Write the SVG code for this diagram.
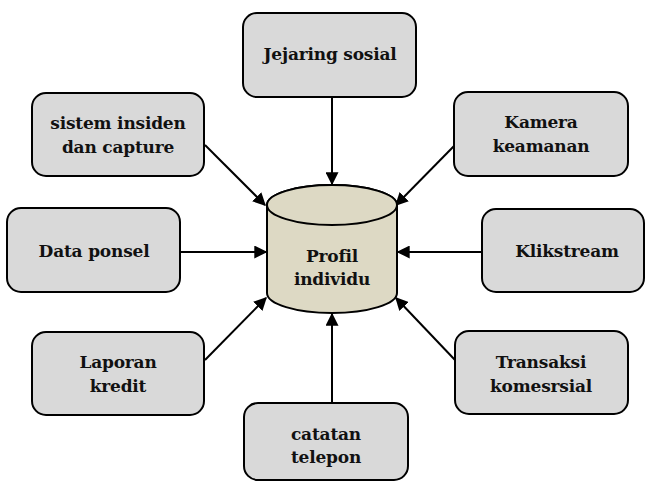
<svg xmlns="http://www.w3.org/2000/svg" width="647" height="484" viewBox="0 0 647 484">
  <style>
    .box { fill: #d9d9d9; stroke: #000; stroke-width: 2; }
    .db { fill: #ddd9c4; stroke: #000; stroke-width: 2; }
    .lbl { font-family: "DejaVu Serif", "Liberation Serif", serif; font-weight: bold; font-size: 17px; fill: #111; text-anchor: middle; letter-spacing: -0.2px; }
    .edge { stroke: #000; stroke-width: 2; fill: none; marker-end: url(#arrow); }
  </style>
  <defs>
    <marker id="arrow" viewBox="0 0 10 10" refX="9" refY="5" markerWidth="6.5" markerHeight="6.5" orient="auto" markerUnits="strokeWidth">
      <path d="M0,0 L10,5 L0,10 z" fill="#000"/>
    </marker>
  </defs>
  <rect width="647" height="484" fill="#fff"/>

  <g id="connectors">
    <line class="edge" x1="332" y1="97" x2="332" y2="184"/>
    <line class="edge" x1="205" y1="145" x2="265" y2="205"/>
    <line class="edge" x1="455" y1="145" x2="396" y2="205"/>
    <line class="edge" x1="180" y1="252" x2="266" y2="252"/>
    <line class="edge" x1="482" y1="252" x2="398" y2="252"/>
    <line class="edge" x1="205" y1="360" x2="266" y2="298"/>
    <line class="edge" x1="455" y1="360" x2="396" y2="298"/>
    <line class="edge" x1="332" y1="403" x2="332" y2="314"/>
  </g>

  <g id="profil-individu">
    <path class="db" d="M267,205 L267,293 A65,20 0 0 0 397,293 L397,205 A65,20 0 0 0 267,205 Z"/>
    <ellipse class="db" cx="332" cy="205" rx="65" ry="20"/>
    <text class="lbl" x="332" y="262">Profil</text>
    <text class="lbl" x="332" y="285">individu</text>
  </g>

  <g id="jejaring-sosial">
    <rect class="box" x="243" y="13" width="173" height="84" rx="14"/>
    <text class="lbl" x="330" y="60">Jejaring sosial</text>
  </g>

  <g id="sistem-insiden">
    <rect class="box" x="32" y="93" width="172" height="83" rx="14"/>
    <text class="lbl" x="118" y="129">sistem insiden</text>
    <text class="lbl" x="118" y="153">dan capture</text>
  </g>

  <g id="kamera-keamanan">
    <rect class="box" x="454" y="92" width="174" height="84" rx="14"/>
    <text class="lbl" x="541" y="128">Kamera</text>
    <text class="lbl" x="541" y="152">keamanan</text>
  </g>

  <g id="data-ponsel">
    <rect class="box" x="7" y="208" width="173" height="84" rx="14"/>
    <text class="lbl" x="94" y="257">Data ponsel</text>
  </g>

  <g id="klikstream">
    <rect class="box" x="482" y="209" width="162" height="83" rx="14"/>
    <text class="lbl" x="567" y="257">Klikstream</text>
  </g>

  <g id="laporan-kredit">
    <rect class="box" x="32" y="332" width="172" height="83" rx="14"/>
    <text class="lbl" x="118" y="368">Laporan</text>
    <text class="lbl" x="118" y="392">kredit</text>
  </g>

  <g id="transaksi-komersial">
    <rect class="box" x="455" y="331" width="173" height="83" rx="14"/>
    <text class="lbl" x="541" y="368">Transaksi</text>
    <text class="lbl" x="541" y="392">komesrsial</text>
  </g>

  <g id="catatan-telepon">
    <rect class="box" x="244" y="403" width="164" height="77" rx="14"/>
    <text class="lbl" x="326" y="440">catatan</text>
    <text class="lbl" x="326" y="463">telepon</text>
  </g>
</svg>
